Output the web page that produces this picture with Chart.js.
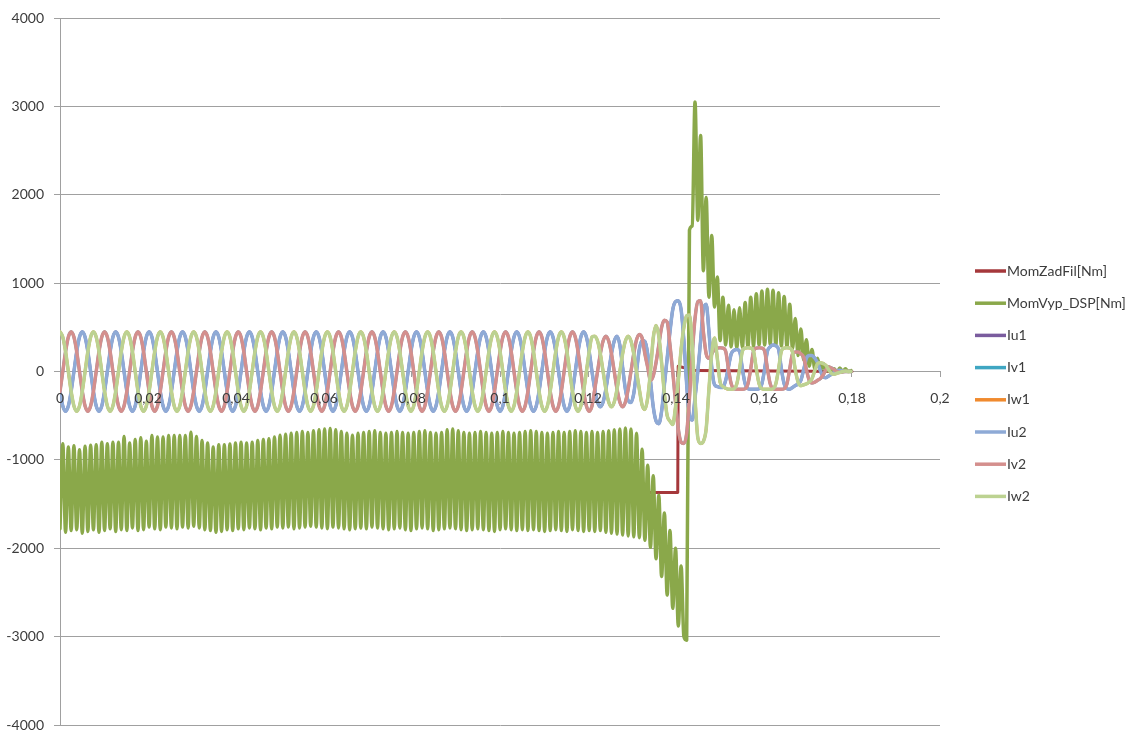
<!DOCTYPE html>
<html>
<head>
<meta charset="utf-8">
<script src="https://cdn.jsdelivr.net/npm/chart.js@4/dist/chart.umd.min.js"></script>
<style>
  html, body { margin: 0; padding: 0; background: #ffffff; }
  #wrap { width: 1133px; height: 731px; }
</style>
</head>
<body>
<div id="wrap"><canvas id="c" width="1133" height="731"></canvas></div>
<script>
// Recording: torque set-point, computed torque and phase currents of both converters.
// Samples are taken every sampleStep seconds starting at t = 0.
const sampleStep = 0.000633;

const seriesNames = ['MomZadFil[Nm]', 'MomVyp_DSP[Nm]', 'Iu1', 'Iv1', 'Iw1', 'Iu2', 'Iv2', 'Iw2'];
const seriesColors = ['#a5383b', '#8aa84a', '#7a5c9e', '#3fa6c2', '#f08a2e', '#8eaad6', '#d48f8d', '#bcd291'];

const xTickLabels = ['0', '0,02', '0,04', '0,06', '0,08', '0,1', '0,12', '0,14', '0,16', '0,18', '0,2'];
const yTickLabels = ['-4000', '-3000', '-2000', '-1000', '0', '1000', '2000', '3000', '4000'];

// Torque set-point (step to zero at switch-off)
const zadTimes  = [0, 0.1404, 0.1405, 0.1445, 0.18];
const zadValues = [-1370, -1370, 60, 10, 0];

// Computed torque, one value per sample
const momVyp = [
  -1780, -818, -1820, -855, -1800, -840, -1790, -885, -1830, -845,
  -1810, -835, -1790, -830, -1820, -800, -1800, -818, -1780, -800,
  -1810, -800, -1790, -735, -1800, -810, -1770, -770, -1800, -750,
  -1790, -790, -1760, -724, -1780, -742, -1790, -742, -1760, -724,
  -1770, -724, -1780, -724, -1760, -724, -1770, -686, -1750, -735,
  -1770, -780, -1790, -810, -1800, -855, -1820, -830, -1810, -830,
  -1790, -820, -1800, -810, -1780, -800, -1790, -810, -1770, -800,
  -1780, -780, -1790, -770, -1770, -760, -1780, -740, -1760, -720,
  -1770, -710, -1760, -700, -1780, -690, -1770, -680, -1760, -690,
  -1750, -670, -1760, -660, -1770, -650, -1780, -645, -1760, -660,
  -1770, -680, -1780, -700, -1790, -720, -1780, -700, -1770, -690,
  -1780, -680, -1760, -670, -1770, -690, -1780, -700, -1790, -690,
  -1780, -680, -1770, -690, -1790, -700, -1800, -690, -1780, -680,
  -1770, -670, -1780, -690, -1800, -700, -1790, -690, -1780, -660,
  -1770, -650, -1780, -670, -1790, -690, -1800, -700, -1790, -690,
  -1780, -680, -1790, -690, -1800, -700, -1810, -690, -1790, -680,
  -1780, -690, -1790, -700, -1800, -690, -1790, -680, -1800, -670,
  -1790, -680, -1800, -690, -1810, -700, -1800, -690, -1790, -680,
  -1800, -690, -1810, -680, -1790, -670, -1800, -680, -1810, -690,
  -1800, -680, -1810, -690, -1800, -680, -1820, -670, -1830, -660,
  -1840, -650, -1850, -640, -1860, -650, -1870, -700, -1880, -880,
  -1910, -1060, -1990, -1180, -2120, -1400, -2320, -1600, -2530, -1800,
  -2680, -2000, -2880, -2200, -3000, -3040, 1600, 1650, 3050, 1710,
  2670, 1140, 1970, 840, 1540, 730, 1070, 350, 840, 300,
  750, 280, 700, 260, 720, 270, 780, 280, 840, 290,
  880, 300, 910, 300, 930, 310, 920, 300, 890, 290,
  850, 280, 760, 260, 600, 180, 480, 130, 360, 60,
  250, 30, 150, 10, 90, 0, 50, -20, 30, -10,
  40, 0, 30, 0, 10
];

// Phase current U, converter 2
const iu2 = [
  -225, -390, -450, -390, -225, 0, 225, 390, 450, 390, 225, 0,
  -225, -390, -450, -390, -225, 0, 225, 390, 450, 390, 225, 0,
  -225, -390, -450, -390, -225, 0, 225, 390, 450, 390, 225, 0,
  -225, -390, -450, -390, -225, 0, 225, 390, 450, 390, 225, 0,
  -225, -390, -450, -390, -225, 0, 225, 390, 450, 390, 225, 0,
  -225, -390, -450, -390, -225, 0, 225, 390, 450, 390, 225, 0,
  -225, -390, -450, -390, -225, 0, 225, 390, 450, 390, 225, 0,
  -225, -390, -450, -390, -225, 0, 225, 390, 450, 390, 225, 0,
  -225, -390, -450, -390, -225, 0, 225, 390, 450, 390, 225, 0,
  -225, -390, -450, -390, -225, 0, 225, 390, 450, 390, 225, 0,
  -225, -390, -450, -390, -225, 0, 225, 390, 450, 390, 225, 0,
  -225, -390, -450, -390, -225, 0, 225, 390, 450, 390, 225, 0,
  -225, -390, -450, -390, -225, 0, 225, 390, 450, 390, 225, 0,
  -225, -390, -450, -390, -225, 0, 225, 390, 450, 390, 225, 0,
  -225, -390, -450, -390, -225, 0, 225, 390, 450, 390, 225, 0,
  -225, -390, -450, -390, -225, 0, 225, 390, 450, 390, 225, 0,
  -200, -345, -400, -345, -200, 0, 200, 345, 400, 300, 50, -200,
  -330, -350, -250, 0, 250, 350, 340, 200, -100, -400, -560, -590,
  -450, -150, 150, 450, 700, 790, 800, 700, 350, -150, -500, -550,
  -300, 0, 350, 700, 760, 450, 50, -150, -170, -180, -180, -100,
  50, 200, 240, 250, 230, 30, -140, -195, -200, -200, -200, -195,
  -140, 30, 230, 280, 300, 290, 250, 30, -140, -195, -200, -180,
  -160, -140, -100, 20, 150, 180, 180, 150, 100, 10, -60, -70,
  -50, -30, -10, 10, 15, 5, 0, 0, 0
];

// Phase current V, converter 2
const iv2 = [
  -225, 0, 225, 390, 450, 390, 225, 0, -225, -390, -450, -390,
  -225, 0, 225, 390, 450, 390, 225, 0, -225, -390, -450, -390,
  -225, 0, 225, 390, 450, 390, 225, 0, -225, -390, -450, -390,
  -225, 0, 225, 390, 450, 390, 225, 0, -225, -390, -450, -390,
  -225, 0, 225, 390, 450, 390, 225, 0, -225, -390, -450, -390,
  -225, 0, 225, 390, 450, 390, 225, 0, -225, -390, -450, -390,
  -225, 0, 225, 390, 450, 390, 225, 0, -225, -390, -450, -390,
  -225, 0, 225, 390, 450, 390, 225, 0, -225, -390, -450, -390,
  -225, 0, 225, 390, 450, 390, 225, 0, -225, -390, -450, -390,
  -225, 0, 225, 390, 450, 390, 225, 0, -225, -390, -450, -390,
  -225, 0, 225, 390, 450, 390, 225, 0, -225, -390, -450, -390,
  -225, 0, 225, 390, 450, 390, 225, 0, -225, -390, -450, -390,
  -225, 0, 225, 390, 450, 390, 225, 0, -225, -390, -450, -390,
  -225, 0, 225, 390, 450, 390, 225, 0, -225, -390, -450, -390,
  -225, 0, 225, 390, 450, 390, 225, 0, -225, -390, -450, -390,
  -225, 0, 225, 390, 450, 390, 225, 0, -225, -390, -450, -390,
  -200, 0, 200, 345, 400, 345, 200, 0, -200, -345, -400, -345,
  -200, 0, 200, 360, 420, 380, 200, 50, -100, -50, 100, 300,
  500, 580, 560, 300, 0, -350, -650, -800, -815, -700, -300, 200,
  600, 790, 800, 450, 200, 150, 200, 250, 265, 270, 265, 230,
  30, -140, -195, -200, -200, -200, -195, -140, 30, 230, 265, 270,
  265, 230, 30, -140, -195, -200, -200, -200, -195, -140, 30, 200,
  220, 220, 200, 160, 20, -100, -130, -120, -100, -80, -40, 20,
  50, 40, 20, 0, -10, -5, 0, 0, 0
];

// Phase current W, converter 2
const iw2 = [
  450, 390, 225, 0, -225, -390, -450, -390, -225, 0, 225, 390,
  450, 390, 225, 0, -225, -390, -450, -390, -225, 0, 225, 390,
  450, 390, 225, 0, -225, -390, -450, -390, -225, 0, 225, 390,
  450, 390, 225, 0, -225, -390, -450, -390, -225, 0, 225, 390,
  450, 390, 225, 0, -225, -390, -450, -390, -225, 0, 225, 390,
  450, 390, 225, 0, -225, -390, -450, -390, -225, 0, 225, 390,
  450, 390, 225, 0, -225, -390, -450, -390, -225, 0, 225, 390,
  450, 390, 225, 0, -225, -390, -450, -390, -225, 0, 225, 390,
  450, 390, 225, 0, -225, -390, -450, -390, -225, 0, 225, 390,
  450, 390, 225, 0, -225, -390, -450, -390, -225, 0, 225, 390,
  450, 390, 225, 0, -225, -390, -450, -390, -225, 0, 225, 390,
  450, 390, 225, 0, -225, -390, -450, -390, -225, 0, 225, 390,
  450, 390, 225, 0, -225, -390, -450, -390, -225, 0, 225, 390,
  450, 390, 225, 0, -225, -390, -450, -390, -225, 0, 225, 390,
  450, 390, 225, 0, -225, -390, -450, -390, -225, 0, 225, 390,
  450, 390, 225, 0, -225, -390, -450, -390, -225, 0, 225, 390,
  400, 345, 200, 0, -200, -345, -400, -345, -200, 0, 200, 345,
  400, 345, 200, 0, -200, -380, -430, -300, 0, 380, 520, 400,
  100, -250, -500, -560, -600, -400, -100, 250, 500, 630, 640, 300,
  -300, -750, -815, -790, -650, -200, 200, 380, 150, -120, -170, -190,
  -200, -200, -195, -140, 30, 230, 265, 270, 265, 230, 30, -140,
  -195, -200, -200, -200, -195, -140, 30, 230, 265, 270, 265, 220,
  20, -120, -160, -150, -140, -120, -80, 10, 90, 100, 90, 70,
  20, -20, -30, -20, -10, 0, 5, 0, 0
];

// Converter 1 currents coincide with the converter 2 traces
const iu1 = iu2;
const iv1 = iv2;
const iw1 = iw2;

// ---- chart construction ----
const sampleTimes = momVyp.map((_, k) => k * sampleStep);
const toPoints = (times, values) => values.map((v, k) => ({ x: times[k], y: v }));

const valueSets = [
  toPoints(zadTimes, zadValues),
  toPoints(sampleTimes, momVyp),
  toPoints(sampleTimes, iu1),
  toPoints(sampleTimes, iv1),
  toPoints(sampleTimes, iw1),
  toPoints(sampleTimes, iu2),
  toPoints(sampleTimes, iv2),
  toPoints(sampleTimes, iw2)
];
const lineWidths = [3, 3.5, 3, 3, 3, 3.5, 3.5, 3.5];

const datasets = valueSets.map((pts, k) => ({
  label: seriesNames[k],
  data: pts,
  borderColor: seriesColors[k],
  backgroundColor: seriesColors[k],
  borderWidth: lineWidths[k],
  pointRadius: 0,
  fill: false,
  tension: k === 0 ? 0 : 0.4,
  cubicInterpolationMode: k === 0 ? 'default' : 'monotone',
  order: seriesNames.length - k
}));

const textColor = '#3c3c3c';
const axisGray = '#a0a0a0';
const tickFont = { family: 'Lato', size: 14 };

const sideLegend = {
  id: 'sideLegend',
  afterDraw(chart) {
    const ctx = chart.ctx;
    ctx.save();
    ctx.font = '14px Lato';
    ctx.textBaseline = 'middle';
    ctx.textAlign = 'left';
    chart.data.datasets.forEach((ds, k) => {
      const y = 271 + k * 32.2;
      ctx.strokeStyle = ds.borderColor;
      ctx.lineWidth = 3.5;
      ctx.beginPath();
      ctx.moveTo(975, y);
      ctx.lineTo(1006, y);
      ctx.stroke();
      ctx.fillStyle = textColor;
      ctx.fillText(ds.label, 1007, y);
    });
    ctx.restore();
  }
};

new Chart(document.getElementById('c'), {
  type: 'line',
  data: { datasets },
  plugins: [sideLegend],
  options: {
    responsive: false,
    animation: false,
    layout: { padding: { left: 0, right: 193, top: 18, bottom: 6 } },
    plugins: { legend: { display: false }, tooltip: { enabled: false } },
    elements: { line: { borderCapStyle: 'round', borderJoinStyle: 'round' } },
    scales: {
      x: {
        type: 'linear',
        min: 0,
        max: 0.2,
        position: { y: 0 },
        afterFit(scale) { scale.height = 0; },
        grid: { drawOnChartArea: false, drawTicks: true, tickLength: 5, color: axisGray },
        border: { display: true, color: axisGray, width: 1 },
        ticks: {
          z: 1,
          stepSize: 0.02,
          autoSkip: false,
          maxRotation: 0,
          padding: 14,
          color: textColor,
          font: tickFont,
          callback: (value, index) => xTickLabels[index]
        }
      },
      y: {
        min: -4000,
        max: 4000,
        afterFit(scale) {
          scale.width = 60;
          scale.paddingTop = 0;
          scale.paddingBottom = 0;
        },
        grid: { color: axisGray, tickLength: 6, lineWidth: 1 },
        border: { display: true, color: axisGray, width: 1 },
        ticks: {
          stepSize: 1000,
          padding: 10,
          color: textColor,
          font: tickFont,
          callback: (value, index) => yTickLabels[index]
        }
      }
    }
  }
});
</script>
</body>
</html>
